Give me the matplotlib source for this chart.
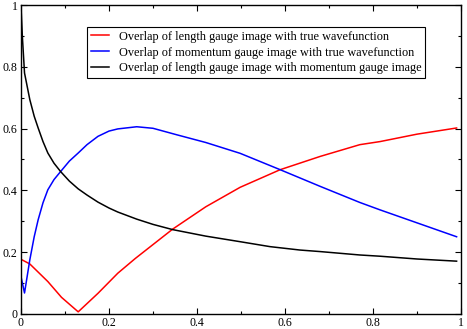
import matplotlib.pyplot as plt
from matplotlib.ticker import MultipleLocator

plt.rcParams['font.family'] = ['Liberation Serif', 'DejaVu Serif']

x_red = [0, 0.02, 0.061, 0.092, 0.13, 0.175, 0.22, 0.26, 0.345, 0.42, 0.498,
         0.589, 0.68, 0.77, 0.816, 0.9, 0.99]
y_red = [0.177, 0.162, 0.105, 0.054, 0.007, 0.067, 0.132, 0.18, 0.275, 0.347, 0.41,
         0.467, 0.51, 0.548, 0.558, 0.582, 0.602]

x_blue = [0, 0.008, 0.02, 0.03, 0.039, 0.05, 0.061, 0.075, 0.09, 0.11, 0.13, 0.15,
          0.175, 0.2, 0.22, 0.263, 0.3, 0.354, 0.42, 0.498, 0.589, 0.68, 0.77,
          0.816, 0.9, 0.99]
y_blue = [0.121, 0.068, 0.175, 0.25, 0.305, 0.36, 0.402, 0.435, 0.461, 0.495, 0.521,
          0.548, 0.575, 0.592, 0.599, 0.606, 0.601, 0.58, 0.555, 0.52, 0.467,
          0.413, 0.361, 0.337, 0.295, 0.25]

x_black = [0, 0.003, 0.008, 0.02, 0.03, 0.039, 0.05, 0.061, 0.075, 0.09, 0.11,
           0.13, 0.15, 0.175, 0.2, 0.22, 0.263, 0.3, 0.345, 0.42, 0.498, 0.566,
           0.634, 0.68, 0.77, 0.816, 0.9, 0.99]
y_black = [1.0, 0.9, 0.78, 0.694, 0.64, 0.602, 0.558, 0.521, 0.488, 0.461, 0.43,
           0.405, 0.385, 0.362, 0.343, 0.33, 0.307, 0.29, 0.273, 0.252, 0.234, 0.218,
           0.207, 0.202, 0.191, 0.187, 0.178, 0.171]

labels = ["Overlap of length gauge image with true wavefunction",
          "Overlap of momentum gauge image with true wavefunction",
          "Overlap of length gauge image with momentum gauge image"]

fig = plt.figure(figsize=(4.67, 3.29), dpi=100)
ax = fig.add_axes([21 / 467, 1 - 314 / 329, 440 / 467, 309 / 329])

ax.plot(x_red, y_red, color='#ff0000', lw=1.1, label=labels[0])
ax.plot(x_blue, y_blue, color='#0000ff', lw=1.1, label=labels[1])
ax.plot(x_black, y_black, color='black', lw=1.1, label=labels[2])

ax.set_xlim(0, 1)
ax.set_ylim(0, 1)
ax.xaxis.set_minor_locator(MultipleLocator(0.1))
ax.yaxis.set_minor_locator(MultipleLocator(0.1))
ax.set_xticks([0, 0.2, 0.4, 0.6, 0.8, 1])
ax.set_xticklabels(['0', '0.2', '0.4', '0.6', '0.8', '1'])
ax.set_yticks([0, 0.2, 0.4, 0.6, 0.8, 1])
ax.set_yticklabels(['0', '0.2', '0.4', '0.6', '0.8', '1'])
ax.tick_params(which='both', direction='in', top=True, right=True,
               labelsize=8.6, width=0.8)
ax.tick_params(which='major', length=4.5, pad=2.5)
ax.tick_params(which='minor', length=2.5)
for s in ax.spines.values():
    s.set_linewidth(1.0)

leg = ax.legend(loc='upper left', bbox_to_anchor=(87 / 467, 1 - 27 / 329),
                bbox_transform=fig.transFigure, fontsize=8.8, frameon=True,
                fancybox=False, framealpha=1, edgecolor='black',
                handlelength=1.5, handletextpad=0.8, labelspacing=0.32,
                borderpad=0.3, borderaxespad=0)
leg.get_frame().set_linewidth(0.8)

fig.savefig("out.png", dpi=100)
